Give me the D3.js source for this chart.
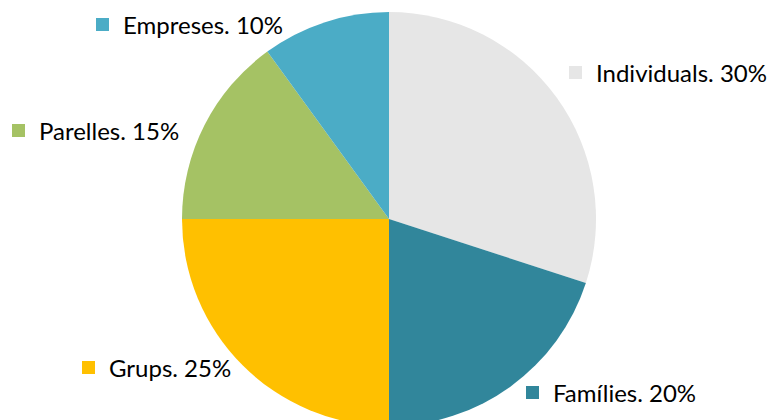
<!DOCTYPE html>
<html>
<head>
<meta charset="utf-8">
<script src="https://cdn.jsdelivr.net/npm/d3@7/dist/d3.min.js"></script>
<style>
  html, body { margin: 0; padding: 0; background: #fff; }
  svg { display: block; }
</style>
</head>
<body>
<svg id="chart" width="772" height="420"></svg>
<script>
// Clients by type
const categories = ["Individuals", "Famílies", "Grups", "Parelles", "Empreses"];
const shares = [30, 20, 25, 15, 10];
const colors = ["#E6E6E6", "#31869B", "#FFC000", "#A5C264", "#4BACC6"];
// Legend anchor points (square top-left) next to each slice
const labelX = [569, 526, 82, 12, 96];
const labelY = [66, 386, 361, 124, 18];

const width = 772, height = 420;
const cx = 389, cy = 219, r = 207;

const svg = d3.select("#chart");
const data = categories.map((c, i) => ({ name: c, value: shares[i], color: colors[i], lx: labelX[i], ly: labelY[i] }));

const pie = d3.pie().value(d => d.value).sort(null);
const arc = d3.arc().innerRadius(0).outerRadius(r);

const g = svg.append("g").attr("transform", `translate(${cx},${cy})`);
g.selectAll("path")
  .data(pie(data))
  .join("path")
  .attr("d", arc)
  .attr("fill", d => d.data.color);

const labels = svg.selectAll("g.lab")
  .data(data)
  .join("g")
  .attr("class", "lab")
  .attr("transform", d => `translate(${d.lx},${d.ly})`);

labels.append("rect")
  .attr("width", 13).attr("height", 13)
  .attr("fill", d => d.color);

labels.append("text")
  .attr("x", 27).attr("y", 16)
  .attr("font-family", "Lato, 'Open Sans', sans-serif")
  .attr("font-size", 24)
  .attr("fill", "#000")
  .text(d => `${d.name}. ${d.value}%`);
</script>
</body>
</html>
